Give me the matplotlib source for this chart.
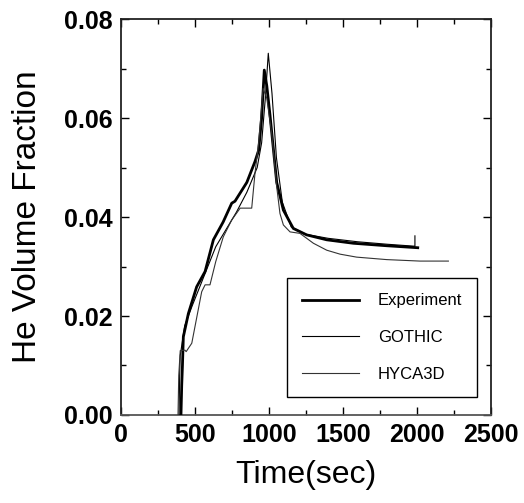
import matplotlib
matplotlib.use("Agg")
import matplotlib.pyplot as plt
from matplotlib.ticker import MultipleLocator

plt.rcParams['font.family'] = ['Liberation Sans', 'DejaVu Sans']

# Experiment
exp_t = [405, 410, 415, 421, 455, 511, 568, 624, 690, 748, 770, 850, 905, 930,
         950, 968, 985, 1007, 1052, 1097, 1164, 1254, 1390, 1570, 1795, 2005]
exp_y = [0.000, 0.006, 0.010, 0.0158, 0.0205, 0.0259, 0.0290, 0.0354, 0.0390,
         0.0428, 0.0432, 0.0470, 0.0512, 0.0535, 0.0600, 0.0697, 0.0665, 0.0605,
         0.0470, 0.0414, 0.0377, 0.0364, 0.0354, 0.0347, 0.0342, 0.0338]

# GOTHIC
got_t = [392, 396, 400, 430, 480, 560, 640, 700, 780, 850, 920, 950, 975, 995,
         1020, 1050, 1090, 1150, 1250, 1400, 1600, 1800, 1986, 1986]
got_y = [0.000, 0.008, 0.012, 0.018, 0.022, 0.028, 0.034, 0.037, 0.041, 0.045,
         0.050, 0.055, 0.064, 0.0731, 0.065, 0.052, 0.043, 0.038, 0.0365, 0.0357,
         0.0350, 0.0345, 0.0341, 0.0362]

# HYCA3D
hyc_t = [385, 390, 400, 432, 440, 478, 545, 568, 601, 640, 691, 748, 805, 883,
         905, 930, 960, 985, 1018, 1052, 1074, 1097, 1142, 1209, 1300, 1390,
         1480, 1592, 1795, 2020, 2212]
hyc_y = [0.000, 0.008, 0.013, 0.0131, 0.0128, 0.0145, 0.0249, 0.0263, 0.0263,
         0.031, 0.036, 0.0394, 0.0418, 0.0418, 0.0488, 0.055, 0.066, 0.064,
         0.0569, 0.0461, 0.0407, 0.0384, 0.0370, 0.0367, 0.0347, 0.0333, 0.0325,
         0.0319, 0.0314, 0.0311, 0.0311]

fig = plt.figure(figsize=(5.24, 5.03), dpi=100)
ax = fig.add_axes([0.231, 0.175, 0.706, 0.787])

ax.plot(exp_t, exp_y, color='black', lw=2.0, label='Experiment', zorder=3)
ax.plot(got_t, got_y, color='black', lw=0.8, label='GOTHIC', zorder=4)
ax.plot(hyc_t, hyc_y, color='#333333', lw=0.8, label='HYCA3D', zorder=4)

ax.set_xlim(0, 2500)
ax.set_ylim(0, 0.08)
ax.xaxis.set_major_locator(MultipleLocator(500))
ax.xaxis.set_minor_locator(MultipleLocator(250))
ax.yaxis.set_major_locator(MultipleLocator(0.02))
ax.yaxis.set_minor_locator(MultipleLocator(0.01))
ax.set_yticklabels([f'{v:.2f}' for v in ax.get_yticks()])
ax.tick_params(which='both', direction='in', top=True, right=True, width=1)
ax.tick_params(which='major', length=6, labelsize=18, pad=6)
ax.tick_params(which='minor', length=3.5)
for lab in ax.get_xticklabels() + ax.get_yticklabels():
    lab.set_fontweight('bold')
for s in ax.spines.values():
    s.set_linewidth(1.3)
    s.set_color('#222222')
ax.spines['bottom'].set_color('#555555')

ax.set_xlabel('Time(sec)', fontsize=23, labelpad=9)
ax.set_ylabel('He Volume Fraction', fontsize=24, labelpad=15)

leg = ax.legend(loc='upper left', bbox_to_anchor=(0.449, 0.345), fontsize=12,
                handlelength=3.4, handletextpad=1.15, borderpad=0.9,
                labelspacing=1.3, fancybox=False, framealpha=1,
                edgecolor='black', borderaxespad=0)
leg.get_frame().set_linewidth(1.0)

fig.savefig('out.png', dpi=100)
